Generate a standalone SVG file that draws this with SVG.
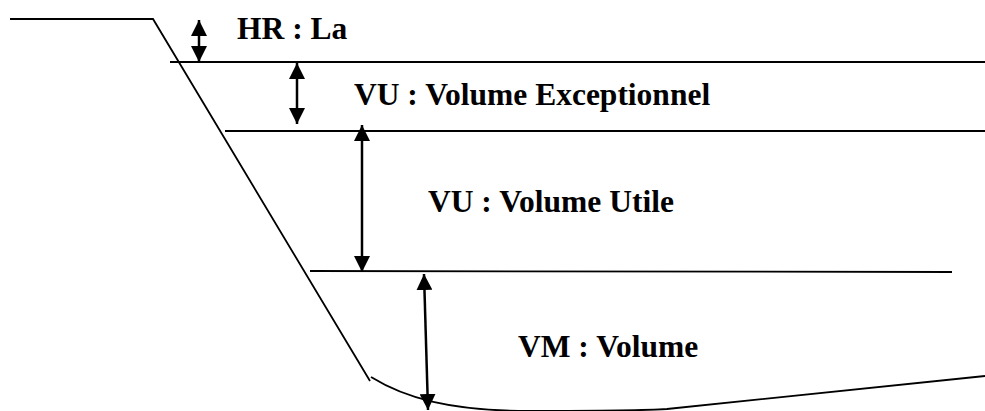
<svg xmlns="http://www.w3.org/2000/svg" width="985" height="411" viewBox="0 0 985 411">
<style>
.ln{fill:none;stroke:#000;stroke-width:1.8}
.ar{fill:none;stroke:#000;stroke-width:2.5;marker-start:url(#ah);marker-end:url(#ah)}
</style>
<defs>
<marker id="ah" viewBox="0 0 16 16" refX="16" refY="8" markerWidth="16" markerHeight="16" markerUnits="userSpaceOnUse" orient="auto-start-reverse">
<path d="M0,0 L16,8 L0,16 z" fill="#000"/>
</marker>
</defs>
<g id="profile">
<path class="ln" d="M10,19 L153,19 L370,381"/>
<path class="ln" d="M371,377 C405,398 450,411 530,411 C600,411 640,411 667,409 L985,376"/>
</g>
<g id="levels">
<line class="ln" x1="170" y1="62" x2="985" y2="62"/>
<line class="ln" x1="225" y1="131" x2="985" y2="131"/>
<line class="ln" x1="310" y1="271" x2="952" y2="272"/>
</g>
<g id="connectors">
<line class="ar" x1="199" y1="20" x2="199" y2="62"/>
<line class="ar" x1="297" y1="63" x2="297" y2="124"/>
<line class="ar" x1="362" y1="125" x2="362" y2="272"/>
<line class="ar" x1="424" y1="274" x2="428" y2="410"/>
</g>
<g id="hr"><text x="237" y="39" font-family="'Liberation Serif', serif" font-weight="bold" font-size="31.5">HR : La</text></g>
<g id="vue"><text x="354" y="105" font-family="'Liberation Serif', serif" font-weight="bold" font-size="31.5">VU : Volume Exceptionnel</text></g>
<g id="vuu"><text x="428" y="212" font-family="'Liberation Serif', serif" font-weight="bold" font-size="31.5">VU : Volume Utile</text></g>
<g id="vm"><text x="518" y="357" font-family="'Liberation Serif', serif" font-weight="bold" font-size="31.5">VM : Volume</text></g>
</svg>
